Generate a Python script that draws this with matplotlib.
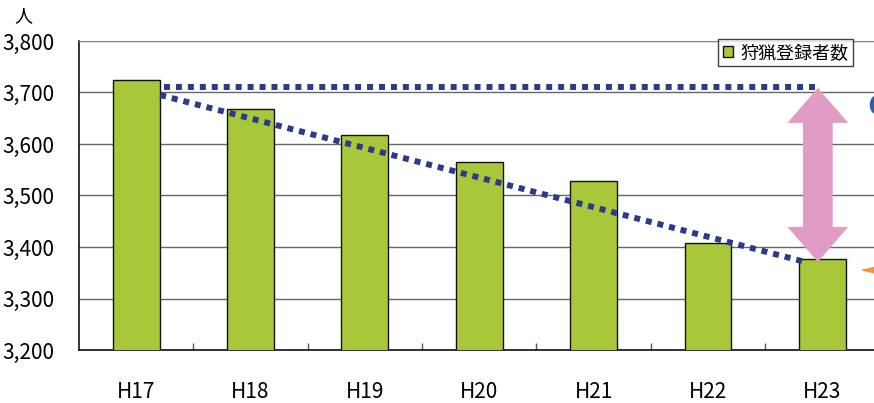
import numpy as np
import matplotlib.pyplot as plt
from matplotlib.patches import Ellipse, Polygon

plt.rcParams['font.family'] = ['Noto Sans CJK JP', 'DejaVu Sans']

years = ["H17", "H18", "H19", "H20", "H21", "H22", "H23"]
hunters = [3724, 3668, 3617, 3565, 3528, 3408, 3377]

# trend lines (dotted): x positions in category units, y in persons
flat_x = [0.24, 5.98]
flat_y = [3710, 3710]
slope_x = [0.21, 5.85]
slope_y = [3695, 3371]

# double arrow
arr_x = 5.96
arr_y0 = 3709
arr_y1 = 3371

yticks = np.arange(3200, 3900, 100)

fig = plt.figure(figsize=(8.74, 4.03), dpi=100)
ax = fig.add_axes([0.0904, 0.1315, 0.916, 0.7668])

x = np.arange(len(years))
bars = ax.bar(x, hunters, width=0.41, color='#a8c83a', edgecolor='#111111',
              linewidth=1.0, zorder=3, label='狩猟登録者数')

ax.set_xlim(-0.5, 6.5)
ax.set_ylim(3200, 3800)
ax.set_yticks(yticks)
ax.set_yticklabels(["{:,}".format(v) for v in yticks], fontsize=15)
ax.set_xticks(x)
ax.set_xticklabels(years, fontsize=15)
ax.tick_params(axis='both', length=0, pad=22)
ax.tick_params(axis='y', pad=18)
# small tick marks between categories
ax.set_xticks(np.arange(0.5, 6.5, 1.0), minor=True)
ax.tick_params(axis='x', which='minor', direction='in', length=5, width=1, color='#555555')

ax.yaxis.grid(True, color='#666666', linewidth=1.0, zorder=0)
ax.set_axisbelow(True)
ax.spines['right'].set_visible(False)
ax.spines['top'].set_color('#888888')
ax.spines['left'].set_color('#111111')
ax.spines['bottom'].set_color('#111111')
ax.spines['left'].set_linewidth(1.2)
ax.spines['bottom'].set_linewidth(1.2)

ax.plot(flat_x, flat_y, color='#2b3a8c', linewidth=4.3, linestyle=(0, (1, 1)),
        zorder=5)
ax.plot(slope_x, slope_y, color='#2b3a8c', linewidth=4.3, linestyle=(0, (1, 1)),
        zorder=5)

# pink double arrow as one polygon
sw = 0.13   # half shaft width
hw = 0.265  # half head width
hl = 68     # head length
arrow_pts = [
    [arr_x, arr_y0],
    [arr_x + hw, arr_y0 - hl],
    [arr_x + sw, arr_y0 - hl],
    [arr_x + sw, arr_y1 + hl],
    [arr_x + hw, arr_y1 + hl],
    [arr_x, arr_y1],
    [arr_x - hw, arr_y1 + hl],
    [arr_x - sw, arr_y1 + hl],
    [arr_x - sw, arr_y0 - hl],
    [arr_x - hw, arr_y0 - hl],
]
ax.add_patch(Polygon(arrow_pts, closed=True, color='#e09cc4', linewidth=0, zorder=6))

# cut-off annotations at right edge
ax.add_patch(Ellipse((6.48, 3676), 0.12, 36, color='#2f5fa8', zorder=6, clip_on=False))
ax.add_patch(Polygon([[6.35, 3355], [6.55, 3345], [6.55, 3365]], closed=True,
                     color='#f0963c', zorder=6, clip_on=False))
ax.add_patch(Polygon([[6.48, 3418], [6.55, 3414], [6.55, 3422]], closed=True,
                     color='#f0963c', zorder=6, clip_on=False))

leg = ax.legend(loc='upper right', bbox_to_anchor=(0.967, 1.006), fontsize=13,
                frameon=True, fancybox=False, edgecolor='#111111',
                handlelength=0.6, handleheight=0.6, handletextpad=0.4,
                borderpad=0.25, borderaxespad=0)
leg.get_frame().set_linewidth(1.0)

fig.text(0.016, 0.96, "人", fontsize=13, ha='left', va='center')

plt.savefig("out.png", dpi=100)
